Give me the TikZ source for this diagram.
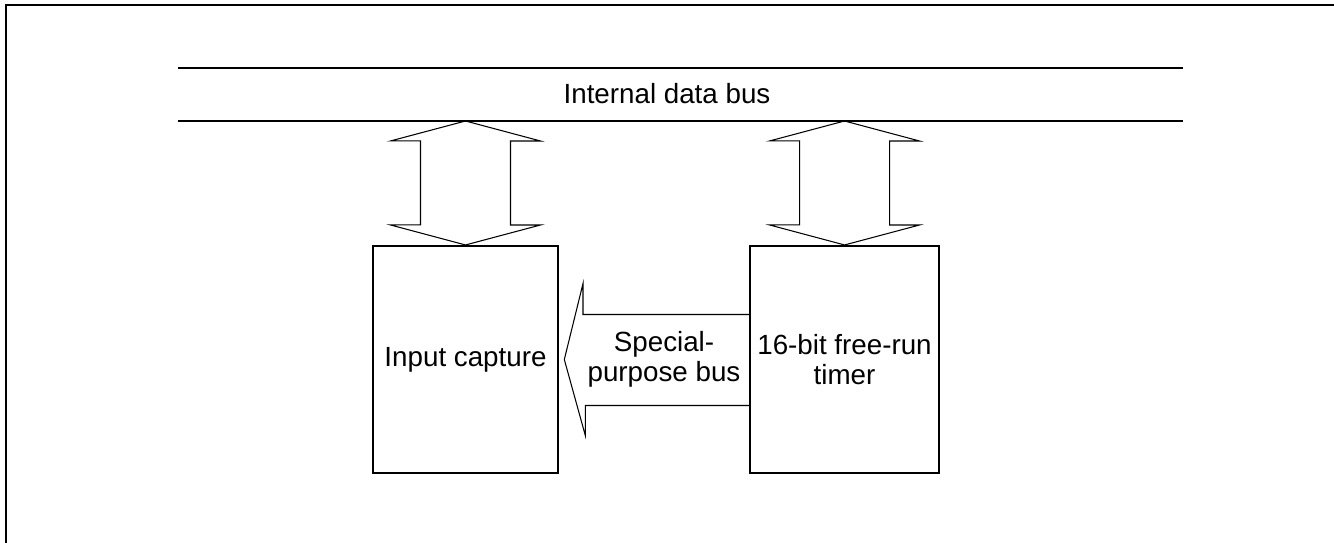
\documentclass[tikz,border=0pt]{standalone}
\usepackage{fontspec}
\setmainfont{Liberation Sans}
\usetikzlibrary{positioning}

\tikzset{
    blockbox/.style={draw, line width=1.2pt, minimum width=3.7cm, minimum height=4.54cm,
        inner sep=0pt, align=center, font=\fontsize{15.8pt}{17pt}\selectfont},
    busline/.style={line width=1.2pt},
    hollowarrow/.style={line width=0.6pt, line join=miter},
    frameline/.style={line width=1.2pt}
}

\begin{document}
\begin{tikzpicture}[x=0.02cm, y=-0.02cm]
    \useasboundingbox (0,0) rectangle (1334,543);
    % outer frame, only top and left edges show
    \draw[frameline] (6,543) -- (6,5) -- (1334,5);

    % internal bus
    \draw[busline] (178,68) coordinate (bustl) -- (1183,68) coordinate (bustr);
    \draw[busline] (178,121) coordinate (busbl) -- (1183,121) coordinate (busbr);
    \node[font=\fontsize{15.8pt}{17pt}\selectfont] (bus) at (667,94) {Internal data bus};

    % blocks
    \node[blockbox] (cap) at (465.5,359.5) {Input capture};
    \node[blockbox, minimum width=3.78cm, right=3.8cm of cap] (timer) {16-bit free-run\\timer};

    % bus <-> block arrows
    \draw[hollowarrow] (cap.north |- busbl) -- ++(75,20) -- ++(-30,0) -- ++(0,84) -- ++(30,0)
        -- (cap.north) -- ++(-75,-20) -- ++(30,0) -- ++(0,-84) -- ++(-30,0) -- cycle;
    \draw[hollowarrow] (timer.north |- busbl) -- ++(75,20) -- ++(-30,0) -- ++(0,84) -- ++(30,0)
        -- (timer.north) -- ++(-75,-20) -- ++(30,0) -- ++(0,-84) -- ++(-30,0) -- cycle;

    % special-purpose bus, timer -> capture
    \draw[hollowarrow] ([yshift=0.9cm]timer.west) -- ++(-166,0) -- ++(0,-31)
        -- ([xshift=3pt]cap.east) -- ++(21,76) -- ++(0,-30) -- ([yshift=-0.92cm]timer.west);
    \node[align=center, font=\fontsize{15.8pt}{17pt}\selectfont] (spbus) at (664,359) {Special-\\purpose bus};
\end{tikzpicture}
\end{document}
